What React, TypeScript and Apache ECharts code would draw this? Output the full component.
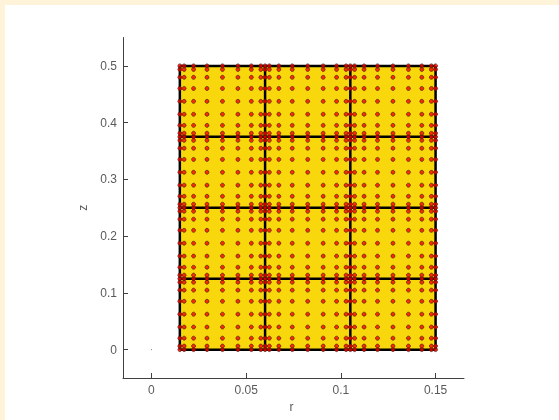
import React, { useEffect, useRef } from "react";
import * as echarts from "echarts";

const rTicks = [0, 0.05, 0.1, 0.15];
const zTicks = [0, 0.1, 0.2, 0.3, 0.4, 0.5];
const rEdges = [0.015, 0.06, 0.105, 0.15];
const zEdges = [0, 0.125, 0.25, 0.375, 0.5];
const rNodes = [
  0.015, 0.01725, 0.02226, 0.02934, 0.0375, 0.04566, 0.05274, 0.05775, 0.06,
  0.06225, 0.06726, 0.07434, 0.0825, 0.09066, 0.09774, 0.10275, 0.105,
  0.10725, 0.11226, 0.11934, 0.1275, 0.13566, 0.14274, 0.14775, 0.15,
];
const zNodes = [
  0, 0.00626, 0.02018, 0.0398, 0.0625, 0.0852, 0.10482, 0.11874, 0.125,
  0.13126, 0.14518, 0.1648, 0.1875, 0.2102, 0.22982, 0.24374, 0.25,
  0.25626, 0.27018, 0.2898, 0.3125, 0.3352, 0.35482, 0.36874, 0.375,
  0.38126, 0.39518, 0.4148, 0.4375, 0.4602, 0.47982, 0.49374, 0.5,
];
const origin = [[0, 0]];

const nodes: number[][] = [];
rNodes.forEach((r) => zNodes.forEach((z) => nodes.push([r, z])));

const gridLines: number[][] = [];
rEdges.forEach((r) => {
  gridLines.push([r, zEdges[0]], [r, zEdges[zEdges.length - 1]], [NaN, NaN]);
});
zEdges.forEach((z) => {
  gridLines.push([rEdges[0], z], [rEdges[rEdges.length - 1], z], [NaN, NaN]);
});

const axisColor = "#404040";
const labelColor = "#5a5a5a";
const font = "Liberation Sans";

export default function App() {
  const ref = useRef<HTMLDivElement>(null);
  useEffect(() => {
    document.body.style.margin = "0";
    document.body.style.background = "#ffffff";
    const chart = echarts.init(ref.current!, undefined, { renderer: "svg" });
    const axisBase = {
      axisLine: { show: true, onZero: false, lineStyle: { color: axisColor, width: 1 } },
      axisTick: { show: true, inside: true, length: 5, lineStyle: { color: axisColor, width: 1 } },
      splitLine: { show: false },
      nameLocation: "middle" as const,
    };
    chart.setOption({
      animation: false,
      backgroundColor: "transparent",
      grid: { left: 123, right: 95, top: 37.5, bottom: 42 },
      xAxis: {
        ...axisBase,
        type: "value",
        name: "r",
        nameGap: 23,
        nameTextStyle: { color: labelColor, fontFamily: font, fontSize: 12, padding: [0, 4, 0, 0] },
        min: -0.015,
        max: 0.165,
        axisTick: { ...axisBase.axisTick, customValues: rTicks },
        axisLabel: { color: labelColor, fontFamily: font, fontSize: 12, margin: 6, customValues: rTicks },
      },
      yAxis: {
        ...axisBase,
        type: "value",
        name: "z",
        nameGap: 29,
        nameTextStyle: { color: labelColor, fontFamily: font, fontSize: 12 },
        min: -0.05,
        max: 0.55,
        axisTick: { ...axisBase.axisTick, customValues: zTicks },
        axisLabel: { color: labelColor, fontFamily: font, fontSize: 12, margin: 6, customValues: zTicks },
      },
      series: [
        {
          type: "custom",
          silent: true,
          z: 1,
          data: [[rEdges[0], zEdges[0], rEdges[rEdges.length - 1], zEdges[zEdges.length - 1]]],
          encode: { x: [0, 2], y: [1, 3] },
          renderItem: (_p: any, api: any) => {
            const a = api.coord([api.value(0), api.value(1)]);
            const b = api.coord([api.value(2), api.value(3)]);
            return {
              type: "rect",
              shape: { x: a[0], y: b[1], width: b[0] - a[0], height: a[1] - b[1] },
              style: { fill: "#f8d80c", stroke: null },
            };
          },
        },
        {
          type: "line",
          silent: true,
          z: 2,
          data: gridLines,
          showSymbol: false,
          connectNulls: false,
          lineStyle: { color: "#000000", width: 2.5 },
        },
        {
          type: "scatter",
          silent: true,
          z: 3,
          data: nodes,
          symbol: "circle",
          symbolSize: 4,
          itemStyle: { color: "#ff0000", borderColor: "rgba(40,20,0,0.7)", borderWidth: 1 },
        },
        {
          type: "scatter",
          silent: true,
          z: 3,
          data: origin,
          symbol: "circle",
          symbolSize: 1,
          itemStyle: { color: "#444444" },
        },
      ],
    });
    return () => chart.dispose();
  }, []);
  return (
    <div style={{ position: "relative", width: 559, height: 420, background: "#fff3d9", overflow: "hidden" }}>
      <div style={{ position: "absolute", left: 5, top: 5, width: 554, height: 415, background: "#ffffff" }} />
      <div ref={ref} style={{ position: "absolute", left: 0, top: 0, width: 559, height: 420, willChange: "transform" }} />
    </div>
  );
}
